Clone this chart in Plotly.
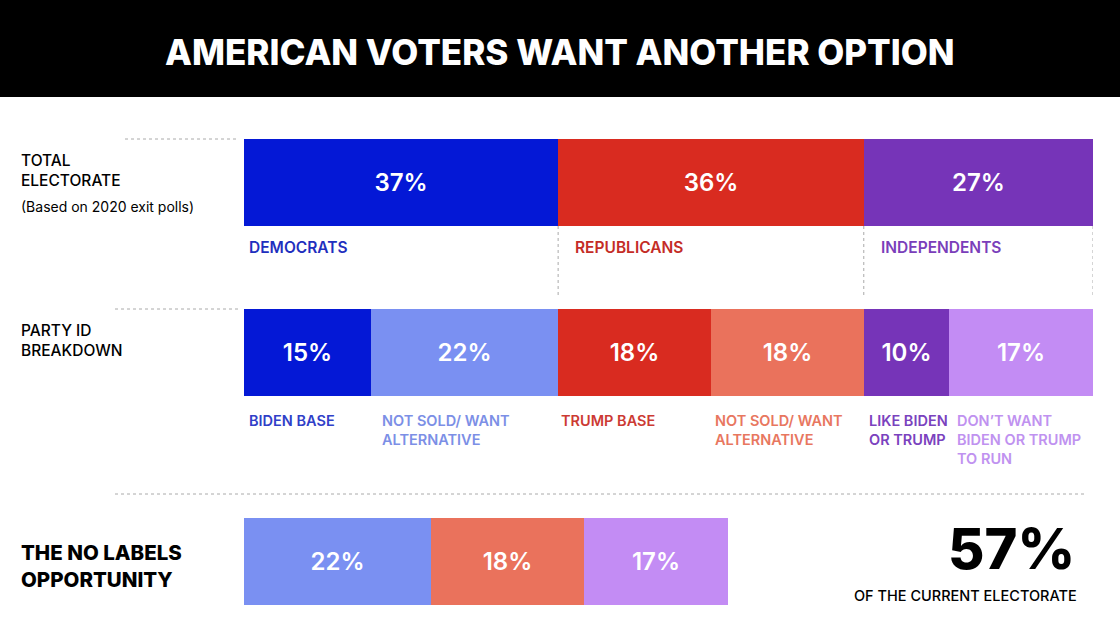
import plotly.graph_objects as go
import numpy as np

W, H = 1120, 638

# ---- data ----
title = "AMERICAN VOTERS WANT ANOTHER OPTION"
total_labels = ["DEMOCRATS", "REPUBLICANS", "INDEPENDENTS"]
total_values = [37, 36, 27]
breakdown_labels = ["BIDEN BASE", "NOT SOLD/ WANT<br>ALTERNATIVE", "TRUMP BASE",
                    "NOT SOLD/ WANT<br>ALTERNATIVE", "LIKE BIDEN<br>OR TRUMP",
                    "DON\u2019T WANT<br>BIDEN OR TRUMP<br>TO RUN"]
breakdown_values = [15, 22, 18, 18, 10, 17]
opportunity_values = [22, 18, 17]
opportunity_total = 57

# ---- styles ----
total_colors = ["#0418D6", "#D92B20", "#7634B8"]
total_label_colors = ["#1F2FBE", "#C42C26", "#7A3EBA"]
breakdown_colors = ["#0418D6", "#7A90F2", "#D92B20", "#EA725C", "#7634B8", "#C38CF4"]
breakdown_label_colors = ["#3040C8", "#7C8FE6", "#CC3A33", "#E8775F", "#7A42BE", "#C092F0"]
opportunity_colors = ["#7A90F2", "#EA725C", "#C38CF4"]
breakdown_label_offsets = [3, 9, 1, 2, 3, 6]   # px offset of label from segment start

FONT = "Inter"
row_y = [182.5, 352.5, 561.5]   # pixel centre of each row
bar_h = 87
X0, X1 = 244, 1093               # pixel extent of the 0-100% axis


def px(x):
    return x / W


def py(y):
    return 1 - y / H


def xpix(v):
    return X0 + (X1 - X0) * v / 100.0


fig = go.Figure()


def add_row(values, colors, y):
    vals = np.array(values, dtype=float)
    base = np.concatenate([[0], np.cumsum(vals)[:-1]])
    fig.add_trace(go.Bar(
        orientation="h", x=vals, base=base, y=[y] * len(vals), width=bar_h,
        marker=dict(color=colors, line=dict(width=0)),
        text=[f"{int(v)}%" for v in vals], textposition="inside",
        insidetextanchor="middle", textangle=0, constraintext="none",
        textfont=dict(family=FONT, size=24, color="white", weight=600),
        hoverinfo="skip", showlegend=False,
    ))
    return base


b1 = add_row(total_values, total_colors, row_y[0])
b2 = add_row(breakdown_values, breakdown_colors, row_y[1])
b3 = add_row(opportunity_values, opportunity_colors, row_y[2])

shapes = []
# title band
shapes.append(dict(type="rect", xref="paper", yref="paper", x0=0, x1=1, y0=py(97), y1=1,
                   fillcolor="black", line=dict(width=0), layer="below"))
dot = dict(color="#AAAAAA", width=1, dash="dot")
# horizontal dotted rules
shapes.append(dict(type="line", xref="paper", yref="paper", x0=px(125), x1=px(238),
                   y0=py(139), y1=py(139), line=dot))
shapes.append(dict(type="line", xref="paper", yref="paper", x0=px(115), x1=px(238),
                   y0=py(309), y1=py(309), line=dot))
shapes.append(dict(type="line", xref="paper", yref="paper", x0=px(115), x1=px(1085),
                   y0=py(494), y1=py(494), line=dot))
# vertical dotted separators under the total row
cum = np.cumsum(total_values)
for v in cum:
    shapes.append(dict(type="line", xref="x", yref="paper", x0=v, x1=v,
                       y0=py(row_y[0] + bar_h / 2), y1=py(296), line=dot))

ann = []
ann.append(dict(text=title, x=0.5, y=py(52), xref="paper", yref="paper", showarrow=False,
                font=dict(family=FONT, size=35, color="white", weight=800),
                xanchor="center", yanchor="middle"))

# left row headings
ann.append(dict(text="TOTAL<br>ELECTORATE", x=px(19), y=py(149), xref="paper", yref="paper",
                showarrow=False, align="left", xanchor="left", yanchor="top",
                font=dict(family=FONT, size=15.5, color="black", weight=500)))
ann.append(dict(text="(Based on 2020 exit polls)", x=px(19), y=py(207), xref="paper", yref="paper",
                showarrow=False, xanchor="left", yanchor="middle",
                font=dict(family=FONT, size=14, color="black")))
ann.append(dict(text="PARTY ID<br>BREAKDOWN", x=px(19), y=py(319), xref="paper", yref="paper",
                showarrow=False, align="left", xanchor="left", yanchor="top",
                font=dict(family=FONT, size=15.5, color="black", weight=500)))
ann.append(dict(text="THE NO LABELS<br>OPPORTUNITY", x=px(19), y=py(566), xref="paper", yref="paper",
                showarrow=False, align="left", xanchor="left", yanchor="middle",
                font=dict(family=FONT, size=20.5, color="black", weight=800)))

# labels under total row
for i, (lab, b, c) in enumerate(zip(total_labels, b1, total_label_colors)):
    off = 3 if i == 0 else 15
    ann.append(dict(text=lab, x=px(xpix(b) + off), y=py(247), xref="paper", yref="paper",
                    showarrow=False, xanchor="left", yanchor="middle",
                    font=dict(family=FONT, size=15.5, color=c, weight=600)))

# labels under breakdown row
for lab, b, c, off in zip(breakdown_labels, b2, breakdown_label_colors, breakdown_label_offsets):
    ann.append(dict(text=lab, x=px(xpix(b) + off), y=py(410), xref="paper", yref="paper",
                    showarrow=False, align="left", xanchor="left", yanchor="top",
                    font=dict(family=FONT, size=14.5, color=c, weight=600)))

# big total
ann.append(dict(text=f"{opportunity_total}%", x=px(1077), y=py(549), xref="paper", yref="paper",
                showarrow=False, xanchor="right", yanchor="middle",
                font=dict(family=FONT, size=56, color="black", weight=800)))
ann.append(dict(text="OF THE CURRENT ELECTORATE", x=px(1079), y=py(595), xref="paper", yref="paper",
                showarrow=False, xanchor="right", yanchor="middle",
                font=dict(family=FONT, size=14.5, color="black", weight=500)))

fig.update_layout(
    width=W, height=H, margin=dict(l=0, r=0, t=0, b=0),
    paper_bgcolor="white", plot_bgcolor="white",
    barmode="overlay", bargap=0,
    xaxis=dict(domain=[px(X0), px(X1)], range=[0, 100], visible=False, fixedrange=True),
    yaxis=dict(domain=[0, 1], range=[H, 0], visible=False, fixedrange=True),
    shapes=shapes, annotations=ann, hovermode=False,
)

fig.write_html("out.html", config={"displayModeBar": False})
